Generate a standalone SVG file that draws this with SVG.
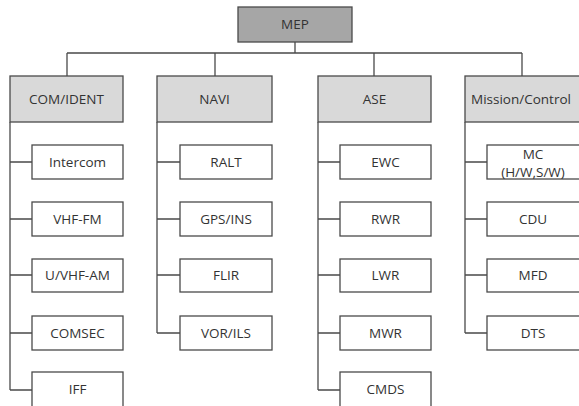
<svg xmlns="http://www.w3.org/2000/svg" width="579" height="406" viewBox="0 0 579 406">
<style>
.box{fill:#ffffff;stroke:#4a4a4a;stroke-width:1.3}
.cat{fill:#d9d9d9;stroke:#4a4a4a;stroke-width:1.3}
.top{fill:#a6a6a6;stroke:#4a4a4a;stroke-width:1.3}
.lbl{font-family:"Open Sans","Liberation Sans",sans-serif;font-size:13.5px;fill:#333333;text-anchor:middle}
.ln{fill:none;stroke:#4a4a4a;stroke-width:1.3}
</style>
<rect width="579" height="406" fill="#ffffff"/>
<g id="connectors">
<path class="ln" d="M295,42V53M67,53H522M67,53V76M215,53V76M374,53V76M522,53V76"/>
<path class="ln" d="M10,122V390M10,162H32M10,219H32M10,275H32M10,333H32M10,390H32"/>
<path class="ln" d="M157,122V333M157,162H180M157,219H180M157,275H180M157,333H180"/>
<path class="ln" d="M318,122V390M318,162H340M318,219H340M318,275H340M318,333H340M318,390H340"/>
<path class="ln" d="M465,122V333M465,162H487M465,219H487M465,275H487M465,333H487"/>
</g>
<g id="mep"><rect class="top" x="238" y="7" width="114" height="35"/><text class="lbl" x="295" y="29">MEP</text></g>
<g id="com-ident"><rect class="cat" x="10" y="76" width="113" height="46"/><text class="lbl" x="66.5" y="104">COM/IDENT</text></g>
<g id="navi"><rect class="cat" x="157" y="76" width="115" height="46"/><text class="lbl" x="214.5" y="104">NAVI</text></g>
<g id="ase"><rect class="cat" x="318" y="76" width="113" height="46"/><text class="lbl" x="374.5" y="104">ASE</text></g>
<g id="mission-control"><rect class="cat" x="465" y="76" width="116" height="46"/><text class="lbl" x="521" y="104">Mission/Control</text></g>
<g id="intercom"><rect class="box" x="32" y="145" width="91" height="34"/><text class="lbl" x="77.5" y="167">Intercom</text></g>
<g id="vhf-fm"><rect class="box" x="32" y="202" width="91" height="34"/><text class="lbl" x="77.5" y="224">VHF-FM</text></g>
<g id="u-vhf-am"><rect class="box" x="32" y="259" width="91" height="33"/><text class="lbl" x="77.5" y="280">U/VHF-AM</text></g>
<g id="comsec"><rect class="box" x="32" y="316" width="91" height="34"/><text class="lbl" x="77.5" y="338">COMSEC</text></g>
<g id="iff"><rect class="box" x="32" y="372" width="91" height="40"/><text class="lbl" x="77.5" y="394">IFF</text></g>
<g id="ralt"><rect class="box" x="180" y="145" width="92" height="34"/><text class="lbl" x="226" y="167">RALT</text></g>
<g id="gps-ins"><rect class="box" x="180" y="202" width="92" height="34"/><text class="lbl" x="226" y="224">GPS/INS</text></g>
<g id="flir"><rect class="box" x="180" y="259" width="92" height="33"/><text class="lbl" x="226" y="280">FLIR</text></g>
<g id="vor-ils"><rect class="box" x="180" y="316" width="92" height="34"/><text class="lbl" x="226" y="338">VOR/ILS</text></g>
<g id="ewc"><rect class="box" x="340" y="145" width="91" height="34"/><text class="lbl" x="385.5" y="167">EWC</text></g>
<g id="rwr"><rect class="box" x="340" y="202" width="91" height="34"/><text class="lbl" x="385.5" y="224">RWR</text></g>
<g id="lwr"><rect class="box" x="340" y="259" width="91" height="33"/><text class="lbl" x="385.5" y="280">LWR</text></g>
<g id="mwr"><rect class="box" x="340" y="316" width="91" height="34"/><text class="lbl" x="385.5" y="338">MWR</text></g>
<g id="cmds"><rect class="box" x="340" y="372" width="91" height="40"/><text class="lbl" x="385.5" y="394">CMDS</text></g>
<g id="mc"><rect class="box" x="487" y="145" width="94" height="34"/><text class="lbl" x="533" y="159">MC</text><text class="lbl" x="533" y="177">(H/W,S/W)</text></g>
<g id="cdu"><rect class="box" x="487" y="202" width="94" height="34"/><text class="lbl" x="533" y="224">CDU</text></g>
<g id="mfd"><rect class="box" x="487" y="259" width="94" height="33"/><text class="lbl" x="533" y="280">MFD</text></g>
<g id="dts"><rect class="box" x="487" y="316" width="94" height="34"/><text class="lbl" x="533" y="338">DTS</text></g>
</svg>
